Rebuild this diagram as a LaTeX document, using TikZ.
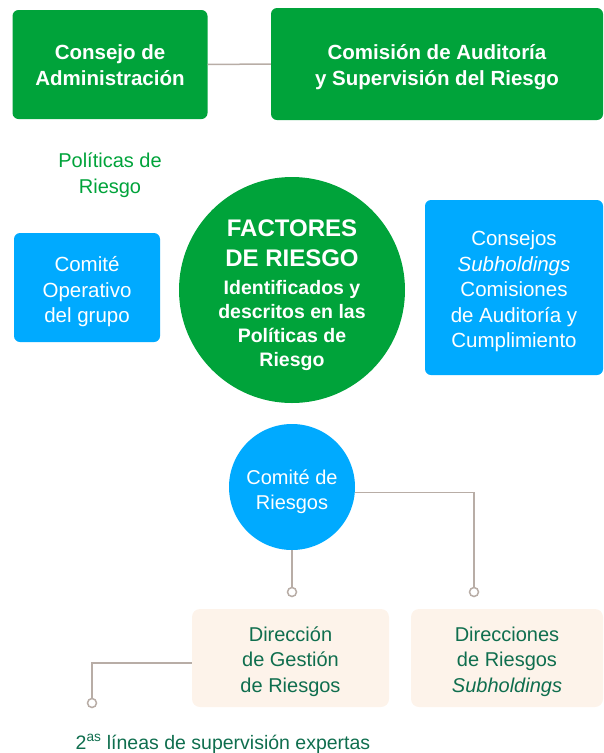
\documentclass[tikz,border=0pt]{standalone}
\usepackage{fontspec}
\setmainfont{Liberation Sans}
\usetikzlibrary{positioning,calc}
\definecolor{Verde}{HTML}{00A33A}
\definecolor{Azul}{HTML}{00AAFF}
\definecolor{Crema}{HTML}{FDF3EA}
\definecolor{VerdeOsc}{HTML}{0F6E4E}
\definecolor{Gris}{HTML}{B8ADA6}
\newcommand{\titular}{\fontsize{24}{29}\selectfont}
% texto centrado y bajado sin mover la caja
\newcommand{\bloque}[2]{\raisebox{-#1}[\height][\depth]{%
  \begin{tabular}{@{}c@{}}#2\end{tabular}}}
\tikzset{
  organo/.style={rectangle,rounded corners=6pt,fill=Verde,text=white,inner sep=0pt,
                 font=\bfseries\fontsize{20.5}{26}\selectfont},
  comite/.style={rectangle,rounded corners=6pt,fill=Azul,text=white,inner sep=0pt,
                 font=\fontsize{20.5}{25.5}\selectfont},
  direccion/.style={rectangle,rounded corners=8pt,fill=Crema,text=VerdeOsc,inner sep=0pt,
                 font=\fontsize{20}{25.5}\selectfont},
  enlace/.style={Gris,line width=1.5pt},
  borne/.style={Gris,line width=1.5pt,fill=white}
}
\begin{document}
\begin{tikzpicture}[x=1pt,y=-1pt]
        \useasboundingbox (0,0) rectangle (603,753);
        % organos de gobierno
        \node[organo,minimum width=195pt,minimum height=109pt] (consejo) at (110,64.5)
              {\bloque{3pt}{Consejo de\\Administración}};
        \node[organo,minimum width=332pt,minimum height=112pt] (comision) at (437,64)
              {\bloque{3pt}{Comisión de Auditoría\\y Supervisión del Riesgo}};
        \node[text=Verde,font=\fontsize{20}{26}\selectfont,align=center] (politicas)
              at (110,175) {Políticas de\\Riesgo};
        % nucleo
        \node[circle,fill=Verde,text=white,minimum size=226pt,inner sep=0pt,
              font=\bfseries\fontsize{19.5}{24}\selectfont] (factores) at (292,290)
              {\bloque{6.5pt}{\titular FACTORES\\[6pt]\titular DE RIESGO\\[4pt]
               Identificados y\\descritos en las\\Políticas de\\Riesgo}};
        \node[comite,minimum width=146pt,minimum height=109pt] (operativo) at (87,287.5)
              {\bloque{4.5pt}{Comité\\Operativo\\del grupo}};
        \node[comite,minimum width=178pt,minimum height=175pt] (subhold) at (514,287.5)
              {\bloque{4pt}{Consejos\\\textit{Subholdings}\\Comisiones\\de Auditoría y\\Cumplimiento}};
        % comite de riesgos y direcciones
        \node[circle,fill=Azul,text=white,minimum size=126pt,inner sep=0pt,
              font=\fontsize{20}{25}\selectfont] (riesgos) at (292,487)
              {\bloque{4.5pt}{Comité de\\Riesgos}};
        \node[direccion,minimum width=197pt,minimum height=98pt] (gestion) at (290.5,658)
              {\bloque{3.5pt}{Dirección\\de Gestión\\de Riesgos}};
        \node[direccion,minimum width=192pt,minimum height=98pt] (dirsub) at (507,658)
              {\bloque{3.5pt}{Direcciones\\de Riesgos\\\textit{Subholdings}}};
        \node[text=VerdeOsc,font=\fontsize{19.5}{24}\selectfont] (lineas) at (223,744)
              {2\textsuperscript{as} líneas de supervisión expertas};
        % conexiones
        \coordinate (b1) at (292,592);
        \coordinate (b2) at (474,592);
        \coordinate (b3) at (92,703);
        \draw[enlace] (consejo.east) -- (comision.west);
        \draw[enlace] (riesgos.-5) -| (b2);
        \draw[enlace] (riesgos.south) -- (b1);
        \draw[enlace] ([yshift=-5pt]gestion.west) -| (b3);
        \foreach \b in {b1,b2,b3}
          \draw[borne] (\b) circle (4.5pt);
      \end{tikzpicture}
\end{document}
